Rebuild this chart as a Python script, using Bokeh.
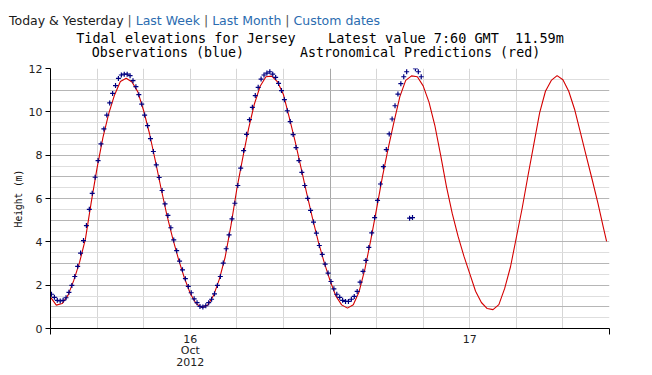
from bokeh.plotting import figure
from bokeh.models import Range1d, FixedTicker, Grid, Div
from bokeh.layouts import column
from bokeh.embed import file_html
from bokeh.resources import INLINE

# ---- data (hours since 15 Oct 2012 12:00) ----
pred_hours = [i * 0.5 for i in range(96)] + [47.75]
pred_height = [
    1.45, 1.08, 1.15, 1.53, 2.22, 3.06, 4.14, 5.83, 7.41, 8.81,
    9.92, 10.78, 11.40, 11.55, 11.38, 10.92, 10.05, 9.00, 7.75, 6.45,
    5.22, 4.15, 3.18, 2.33, 1.62, 1.15, 0.97, 1.08, 1.52, 2.28,
    3.30, 4.77, 6.44, 7.85, 9.20, 10.35, 11.18, 11.62, 11.65, 11.38,
    10.80, 9.74, 8.65, 7.45, 6.24, 5.08, 4.00, 3.05, 2.22, 1.50,
    1.09, 0.94, 1.10, 1.70, 2.75, 4.08, 5.52, 7.00, 8.33, 9.55,
    10.70, 11.45, 11.66, 11.62, 11.20, 10.45, 9.38, 8.00, 6.55, 5.30,
    4.25, 3.34, 2.53, 1.72, 1.20, 0.92, 0.87, 1.10, 1.85, 2.85,
    4.20, 5.55, 7.05, 8.50, 9.95, 10.95, 11.45, 11.67, 11.48, 10.95,
    10.12, 9.05, 7.97, 6.90, 5.80, 4.60, 4.02,
]

obs_height = [
    1.58, 1.44, 1.30, 1.27, 1.30, 1.42, 1.67, 1.99, 2.40, 2.87,
    3.48, 4.06, 4.75, 5.50, 6.24, 6.98, 7.75, 8.52, 9.21, 9.85,
    10.41, 10.85, 11.21, 11.54, 11.70, 11.74, 11.74, 11.67, 11.44, 11.16,
    10.79, 10.36, 9.85, 9.36, 8.76, 8.17, 7.55, 6.97, 6.37,
    5.75, 5.22, 4.65, 4.09, 3.59, 3.11, 2.71, 2.30, 1.94, 1.65,
    1.37, 1.19, 1.02, 0.99, 1.05, 1.19, 1.35, 1.60, 1.99, 2.40,
    3.02, 3.68, 4.32, 5.06, 5.78, 6.60, 7.40, 8.21, 8.96, 9.64,
    10.21, 10.75, 11.13, 11.51, 11.70, 11.79, 11.85, 11.74, 11.59, 11.31,
    10.98, 10.56, 10.05, 9.55, 8.95, 8.35, 7.75, 7.21, 6.60, 6.01,
    5.45, 4.91, 4.40, 3.83, 3.42, 2.97, 2.56, 2.17, 1.83, 1.58,
    1.44, 1.30, 1.25, 1.25, 1.35, 1.48, 1.71, 2.14, 2.64, 3.14,
    3.74, 4.41, 5.12, 5.91, 6.67, 7.47, 8.26, 8.98, 9.67,
    10.28, 10.82, 11.30, 11.62, 11.85, 5.09, 5.12, 11.99, 11.85, 11.62,
]
obs_hours = [5 / 60 + 0.25 * i for i in range(len(obs_height))]

y_ticks = [0, 2, 4, 6, 8, 10, 12]
day_tick_hours = [0, 24, 48]
day_label_hours = [12, 36]
day_labels = ["16\nOct\n2012", "17"]
grid_hours = [4, 8, 12, 16, 20, 28, 32, 36, 40, 44]

title_line1 = "Tidal elevations for Jersey    Latest value 7:60 GMT  11.59m"
title_line2 = "Observations (blue)       Astronomical Predictions (red)"
nav_current = "Today &amp; Yesterday"
nav_links = ["Last Week", "Last Month", "Custom dates"]
y_label = "Height (m)"

# ---- header (navigation + titles) ----
HEAD_H = 60
sep = '<span style="color:#555555"> | </span>'
nav_html = nav_current + sep + sep.join(
    '<span style="color:#2b6cb0">%s</span>' % t for t in nav_links)
header_html = (
    '<div style="position:relative;width:652px;height:%dpx;margin:0;padding:0;">' % HEAD_H
    + '<div style="position:absolute;left:9px;top:13px;font-family:\'DejaVu Sans\';font-size:12.5px;'
      'line-height:16px;color:#1a1a1a;white-space:pre;">' + nav_html + '</div>'
    + '<div style="position:absolute;left:0px;width:640px;top:30px;text-align:center;'
      'font-family:\'DejaVu Sans Mono\';font-size:13.5px;line-height:16px;color:#000;white-space:pre;">'
    + title_line1 + '</div>'
    + '<div style="position:absolute;left:0px;width:632px;top:45px;text-align:center;'
      'font-family:\'DejaVu Sans Mono\';font-size:13.3px;line-height:16px;color:#000;white-space:pre;">'
    + title_line2 + '</div>'
    + '</div>'
)
header = Div(text=header_html, width=652, height=HEAD_H, margin=(0, 0, 0, 0))

# ---- figure ----
W, H = 652, 375 - HEAD_H
FL, FR = 50, 609
FT, FB = 68 - HEAD_H, 328 - HEAD_H
p = figure(width=W, height=H, x_range=Range1d(0, 48), y_range=Range1d(0, 12),
           output_backend="svg", toolbar_location=None, margin=(0, 0, 0, 0),
           min_border_left=FL, min_border_right=W - FR, min_border_top=FT, min_border_bottom=H - FB)
p.outline_line_color = None
p.background_fill_color = "white"
p.border_fill_color = "white"

# x axis: labels at day centres, tick marks (as minor ticks) at noon
p.xaxis.ticker = FixedTicker(ticks=day_label_hours, minor_ticks=day_tick_hours)
p.xaxis.major_label_overrides = dict(zip(day_label_hours, day_labels))
p.xaxis.major_tick_out = 0
p.xaxis.major_tick_in = 0
p.xaxis.major_tick_line_color = None
p.xaxis.minor_tick_out = 6
p.xaxis.minor_tick_in = 0
p.xaxis.minor_tick_line_color = "black"
p.xaxis.axis_line_color = "black"
p.xaxis.major_label_standoff = -2
p.xaxis.major_label_text_font = "DejaVu Sans"
p.xaxis.major_label_text_font_size = "11px"
p.xaxis.major_label_text_color = "#222222"
p.xaxis.major_label_text_line_height = 0.91

p.yaxis.ticker = FixedTicker(ticks=y_ticks)
p.yaxis.major_tick_out = 5
p.yaxis.major_tick_in = 0
p.yaxis.minor_tick_line_color = None
p.yaxis.axis_line_color = "black"
p.yaxis.major_tick_line_color = "black"
p.yaxis.major_label_text_font = "DejaVu Sans"
p.yaxis.major_label_text_font_size = "11px"
p.yaxis.major_label_text_color = "#222222"
p.yaxis.major_label_standoff = 3
p.yaxis.axis_label = y_label
p.yaxis.axis_label_text_font = "DejaVu Sans Mono"
p.yaxis.axis_label_text_font_size = "9.6px"
p.yaxis.axis_label_text_font_style = "normal"
p.yaxis.axis_label_text_color = "#111111"
p.yaxis.axis_label_standoff = 2

# grids
p.xgrid.ticker = FixedTicker(ticks=grid_hours)
p.xgrid.grid_line_color = "#d6d6d6"
p.add_layout(Grid(dimension=0, ticker=FixedTicker(ticks=[24]), grid_line_color="#a8a8a8"))
p.ygrid.ticker = FixedTicker(ticks=[v + 0.5 for v in range(12)])
p.ygrid.grid_line_color = "#dedede"
p.add_layout(Grid(dimension=1, ticker=FixedTicker(ticks=list(range(1, 13))), grid_line_color="#b6b6b6"))

# data
p.line(pred_hours, pred_height, line_color="#d40000", line_width=1.1)
p.scatter(obs_hours, obs_height, marker="cross", size=5, line_color="#000080", line_width=1.2)

layout = column(header, p, spacing=0, margin=(0, 0, 0, 0))
open("out.html", "w").write(file_html(layout, INLINE))
